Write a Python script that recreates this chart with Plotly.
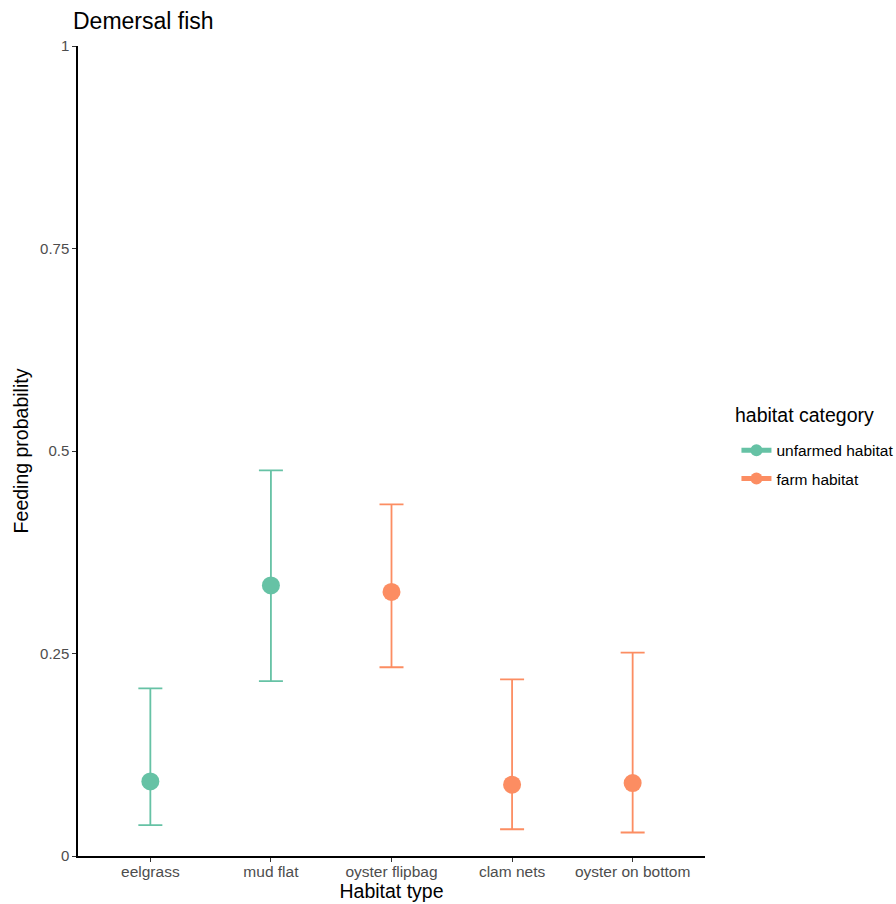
import plotly.graph_objects as go

# Habitat categories in display order
habitats = ["eelgrass", "mud flat", "oyster flipbag", "clam nets", "oyster on bottom"]

# Unfarmed habitats: estimated feeding probability with 95% interval
unfarmed_habitats = ["eelgrass", "mud flat"]
unfarmed_est = [0.092, 0.334]
unfarmed_low = [0.038, 0.216]
unfarmed_high = [0.207, 0.476]

# Farm habitats
farm_habitats = ["oyster flipbag", "clam nets", "oyster on bottom"]
farm_est = [0.326, 0.088, 0.090]
farm_low = [0.233, 0.033, 0.029]
farm_high = [0.434, 0.218, 0.251]

y_ticks = [0, 0.25, 0.5, 0.75, 1]
y_tick_labels = ["0", "0.25", "0.5", "0.75", "1"]

TEAL = "#66C2A5"
ORANGE = "#FC8D62"
FONT = "Liberation Sans, Arial, Helvetica, sans-serif"

W, H = 896, 904
L, R, T, B = 77.5, 190.5, 46, 47.5


def pointrange(name, xs, est, low, high, color):
    return go.Scatter(
        x=xs,
        y=est,
        mode="markers",
        name=name,
        showlegend=False,
        marker=dict(color=color, size=18, line=dict(width=0)),
        error_y=dict(
            type="data",
            symmetric=False,
            array=[h - e for h, e in zip(high, est)],
            arrayminus=[e - l for e, l in zip(est, low)],
            color=color,
            thickness=1.8,
            width=12,
        ),
    )


def legend_key(name, color):
    return go.Scatter(
        x=[None],
        y=[None],
        mode="lines+markers",
        name=name,
        legendgroup=name,
        line=dict(color=color, width=1),
        marker=dict(color=color, size=18),
    )


fig = go.Figure()
fig.add_trace(pointrange("unfarmed habitat", unfarmed_habitats, unfarmed_est,
                         unfarmed_low, unfarmed_high, TEAL))
fig.add_trace(pointrange("farm habitat", farm_habitats, farm_est,
                         farm_low, farm_high, ORANGE))
fig.add_trace(legend_key("unfarmed habitat", TEAL))
fig.add_trace(legend_key("farm habitat", ORANGE))

pw = W - L - R
ph = H - T - B

fig.update_layout(
    width=W,
    height=H,
    margin=dict(l=L, r=R, t=T, b=B, autoexpand=False),
    plot_bgcolor="white",
    paper_bgcolor="white",
    font=dict(family=FONT, color="black"),
    title=dict(
        text="Demersal fish",
        x=73 / W,
        xanchor="left",
        xref="container",
        y=1 - 21 / H,
        yanchor="middle",
        yref="container",
        font=dict(size=23, color="black"),
    ),
    xaxis=dict(
        type="category",
        categoryorder="array",
        categoryarray=habitats,
        range=[-0.6, 4.6],
        automargin=False,
        showgrid=False,
        zeroline=False,
        showline=True,
        linecolor="black",
        linewidth=1.5,
        ticks="outside",
        ticklen=4,
        tickwidth=1.2,
        tickcolor="#333333",
        ticklabelstandoff=-3,
        tickfont=dict(size=15.5, color="#4d4d4d"),
        title=dict(text="Habitat type", font=dict(size=19.5, color="black"), standoff=5),
    ),
    yaxis=dict(
        range=[0, 1],
        tickvals=y_ticks,
        ticktext=y_tick_labels,
        automargin=False,
        showgrid=False,
        zeroline=False,
        showline=True,
        linecolor="black",
        linewidth=1.5,
        ticks="outside",
        ticklen=4,
        tickwidth=1.2,
        tickcolor="#333333",
        tickfont=dict(size=15, color="#4d4d4d"),
        title=dict(text="Feeding probability", font=dict(size=19.5, color="black"), standoff=6),
    ),
    legend=dict(
        font=dict(size=15.5, color="black"),
        x=(737 - L) / pw,
        xanchor="left",
        y=1 - (434 - T) / ph,
        yanchor="top",
        bgcolor="rgba(0,0,0,0)",
        itemsizing="constant",
        tracegroupgap=5,
    ),
    annotations=[
        dict(
            text="habitat category",
            xref="paper",
            yref="paper",
            x=(734 - L) / pw,
            y=1 - (415 - T) / ph,
            xanchor="left",
            yanchor="middle",
            showarrow=False,
            font=dict(size=19.5, color="black"),
        )
    ],
)

fig.write_html("out.html")
